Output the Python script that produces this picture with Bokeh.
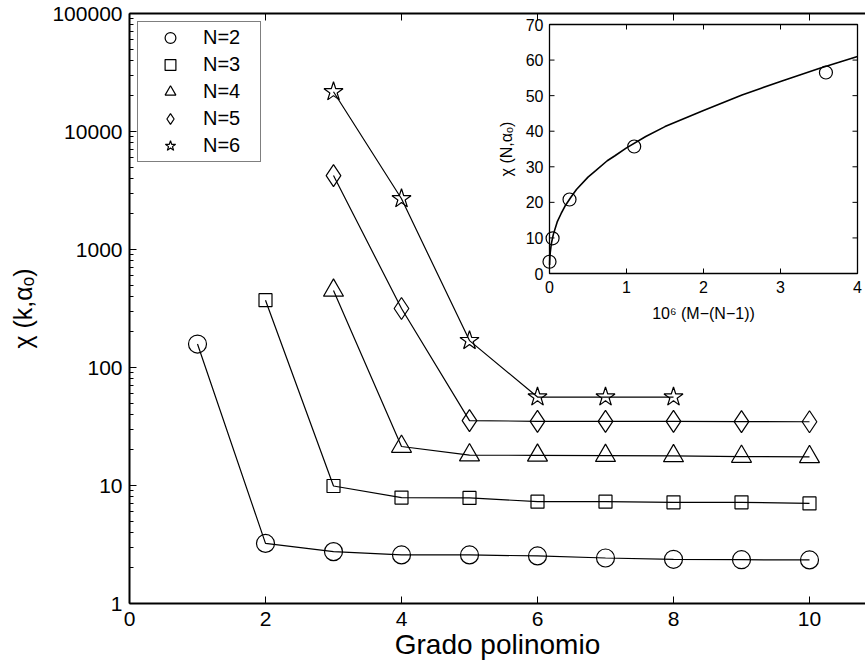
from math import pi
from bokeh.plotting import figure
from bokeh.models import (Range1d, LinearAxis, FixedTicker, Legend, LegendItem,
                          LinearScale, CustomJSTickFormatter)
from bokeh.core.properties import value
from bokeh.embed import file_html
from bokeh.resources import INLINE

FONT = "Liberation Sans"

# ---------------- main chart data ----------------
n2_x = [1, 2, 3, 4, 5, 6, 7, 8, 9, 10]
n2_y = [158, 3.23, 2.75, 2.58, 2.58, 2.53, 2.43, 2.37, 2.35, 2.34]
n3_x = [2, 3, 4, 5, 6, 7, 8, 9, 10]
n3_y = [372, 9.9, 7.9, 7.85, 7.3, 7.3, 7.2, 7.2, 7.05]
n4_x = [3, 4, 5, 6, 7, 8, 9, 10]
n4_y = [450, 21.4, 18.1, 18.0, 17.9, 17.8, 17.6, 17.5]
n5_x = [3, 4, 5, 6, 7, 8, 9, 10]
n5_y = [4230, 316, 35.5, 35.0, 35.0, 35.0, 34.8, 34.7]
n6_x = [3, 4, 5, 6, 7, 8]
n6_y = [21700, 2690, 169, 56.2, 56.2, 56.2]
series_labels = ["N=2", "N=3", "N=4", "N=5", "N=6"]

x_ticks = [0, 2, 4, 6, 8, 10]
y_ticks = [1, 10, 100, 1000, 10000, 100000]
y_tick_labels = ["1", "10", "100", "1000", "10000", "100000"]

# ---------------- inset data ----------------
inset_x = [0.0, 0.04, 0.26, 1.10, 3.59]
inset_y = [3.3, 9.9, 20.8, 35.7, 56.5]
fit_x = [0.001, 0.003, 0.005, 0.01, 0.02, 0.03, 0.05, 0.1, 0.15, 0.2, 0.28,
         0.35, 0.5, 0.6, 0.75, 0.85, 1.0, 1.25, 1.5, 1.75, 2.0, 2.25, 2.5,
         2.75, 3.0, 3.25, 3.5, 3.75, 4.0]
fit_y = [2.4, 3.7, 4.5, 5.9, 7.7, 9.0, 11.0, 14.5, 16.8, 18.9, 21.5,
         23.6, 27.1, 28.9, 31.7, 33.1, 35.3, 38.5, 41.3, 43.6, 45.8, 48.0, 50.2,
         52.1, 54.0, 55.8, 57.6, 59.3, 61.0]
inset_xticks = [0, 1, 2, 3, 4]
inset_xtick_labels = ["0", "1", "2", "3", "4"]
inset_yticks = [0, 10, 20, 30, 40, 50, 60, 70]
inset_ytick_labels = ["0", "10", "20", "30", "40", "50", "60", "70"]

# ---------------- geometry (pixels) ----------------
W, H = 865, 667
B_LEFT, B_TOP, B_BOTTOM = 129, 13, 64
frame_w = W - B_LEFT
frame_h = H - B_TOP - B_BOTTOM
px_per_x = 68.0

# inset placement within frame (pixels from frame left / frame bottom)
ins_left_px, ins_right_px = 420, 728
ins_bottom_px, ins_top_px = 330, 579
ix_unit = (ins_right_px - ins_left_px) / (max(inset_xticks) - min(inset_xticks))
iy_unit = (ins_top_px - ins_bottom_px) / (max(inset_yticks) - min(inset_yticks))
ix_start = min(inset_xticks) - ins_left_px / ix_unit
iy_start = min(inset_yticks) - ins_bottom_px / iy_unit

p = figure(width=W, height=H, output_backend="svg", toolbar_location=None,
           y_axis_type="log", x_range=Range1d(0, frame_w / px_per_x),
           y_range=Range1d(1, 100000),
           min_border_left=B_LEFT, min_border_right=0,
           min_border_top=B_TOP, min_border_bottom=B_BOTTOM)
p.outline_line_color = None
p.xgrid.visible = False
p.ygrid.visible = False
p.background_fill_color = "white"
p.border_fill_color = "white"

p.extra_x_ranges = {"ix": Range1d(ix_start, ix_start + frame_w / ix_unit)}
p.extra_y_ranges = {"iy": Range1d(iy_start, iy_start + frame_h / iy_unit)}
p.extra_x_scales = {"ix": LinearScale()}
p.extra_y_scales = {"iy": LinearScale()}

# axes styling
xa = p.xaxis[0]
xa.ticker = FixedTicker(ticks=x_ticks)
xa.major_tick_in = 7
xa.major_tick_out = 0
xa.minor_tick_line_color = None
xa.axis_line_width = 2
xa.major_label_text_font = FONT
xa.major_label_text_font_size = "21px"
xa.major_label_text_color = "black"
xa.major_label_standoff = 8
xa.axis_label = "Grado polinomio"
xa.axis_label_text_font = FONT
xa.axis_label_text_font_size = "28px"
xa.axis_label_text_font_style = "normal"
xa.axis_label_text_color = "black"
xa.axis_label_standoff = 0

ya = p.yaxis[0]
ya.ticker = FixedTicker(ticks=y_ticks,
                        minor_ticks=[m * t for t in y_ticks[:-1] for m in range(2, 10)])
ya.major_label_overrides = {float(t): l for t, l in zip(y_ticks, y_tick_labels)}
ya.major_tick_in = 7
ya.major_tick_out = 0
ya.minor_tick_in = 4
ya.minor_tick_out = 0
ya.axis_line_width = 2
ya.major_label_text_font = FONT
ya.major_label_text_font_size = "21px"
ya.major_label_text_color = "black"
ya.major_label_standoff = 7
ya.axis_label = "χ (k,αₒ)"
ya.axis_label_text_font = FONT
ya.axis_label_text_font_size = "25px"
ya.axis_label_text_font_style = "normal"
ya.axis_label_text_color = "black"
ya.axis_label_standoff = 12

top = LinearAxis(ticker=FixedTicker(ticks=x_ticks),
                 formatter=CustomJSTickFormatter(code="return ''"),
                 major_tick_in=7, major_tick_out=0,
                 minor_tick_line_color=None, axis_line_width=2,
                 major_label_standoff=0, major_label_text_font_size="0px")
p.add_layout(top, "above")

# ---------------- main series ----------------
series = [
    (n2_x, n2_y, "circle", 18),
    (n3_x, n3_y, "square", 13),
    (n4_x, n4_y, "triangle", 20),
    (n5_x, n5_y, "diamond", 22),
    (n6_x, n6_y, "star", 20),
]
items = []
for (xs, ys, mk, sz), lbl in zip(series, series_labels):
    p.line(xs, ys, line_color="black", line_width=1.2)
    r = p.scatter(xs, ys, marker=mk, size=sz, fill_color=None,
                  line_color="black", line_width=1.2)
    items.append(LegendItem(label=lbl, renderers=[r]))

legend = Legend(items=items, location="top_left")
legend.margin = 8
legend.padding = 2
legend.spacing = 0
legend.glyph_height = 27
legend.glyph_width = 60
legend.label_standoff = 3
legend.label_width = 55
legend.label_height = 27
legend.label_text_font = FONT
legend.label_text_font_size = "20px"
legend.label_text_color = "black"
legend.border_line_color = "black"
legend.border_line_width = 1
legend.background_fill_color = "white"
legend.background_fill_alpha = 1
p.add_layout(legend)

# ---------------- inset ----------------
kw = dict(x_range_name="ix", y_range_name="iy")
x0, x1 = min(inset_xticks), max(inset_xticks)
y0, y1 = min(inset_yticks), max(inset_yticks)
p.quad(left=[x0], right=[x1], bottom=[y0], top=[y1], fill_color="white",
       line_color="black", line_width=1.3, **kw)
p.ray(x=inset_xticks, y=[y0] * len(inset_xticks), length=5, length_units="screen",
      angle=pi / 2, line_color="black", line_width=1, **kw)
p.ray(x=inset_xticks, y=[y1] * len(inset_xticks), length=5, length_units="screen",
      angle=-pi / 2, line_color="black", line_width=1, **kw)
p.ray(x=[x0] * len(inset_yticks), y=inset_yticks, length=5, length_units="screen",
      angle=0, line_color="black", line_width=1, **kw)
p.ray(x=[x1] * len(inset_yticks), y=inset_yticks, length=5, length_units="screen",
      angle=pi, line_color="black", line_width=1, **kw)
p.line(fit_x, fit_y, line_color="black", line_width=1.6, **kw)
p.scatter(inset_x, inset_y, marker="circle", size=13, fill_color=None,
          line_color="black", line_width=1.2, **kw)

p.text(x=inset_xticks, y=[y0] * len(inset_xticks), text=inset_xtick_labels,
       text_font=value(FONT), text_font_size="16px", text_align="center",
       text_baseline="top", y_offset=7, text_color="black", **kw)
p.text(x=[x0] * len(inset_yticks), y=inset_yticks, text=inset_ytick_labels,
       text_font=value(FONT), text_font_size="16px", text_align="right",
       text_baseline="middle", x_offset=-6, text_color="black", **kw)
p.text(x=[(x0 + x1) / 2], y=[y0], text=["10⁶ (M−(N−1))"],
       text_font=value(FONT), text_font_size="16px", text_align="center",
       text_baseline="middle", y_offset=40, text_color="black", **kw)
p.text(x=[x0], y=[(y0 + y1) / 2], text=["χ (N,αₒ)"], angle=pi / 2,
       text_font=value(FONT), text_font_size="16px", text_align="center",
       text_baseline="middle", x_offset=-43, text_color="black", **kw)

open("out.html", "w").write(file_html(p, INLINE))
